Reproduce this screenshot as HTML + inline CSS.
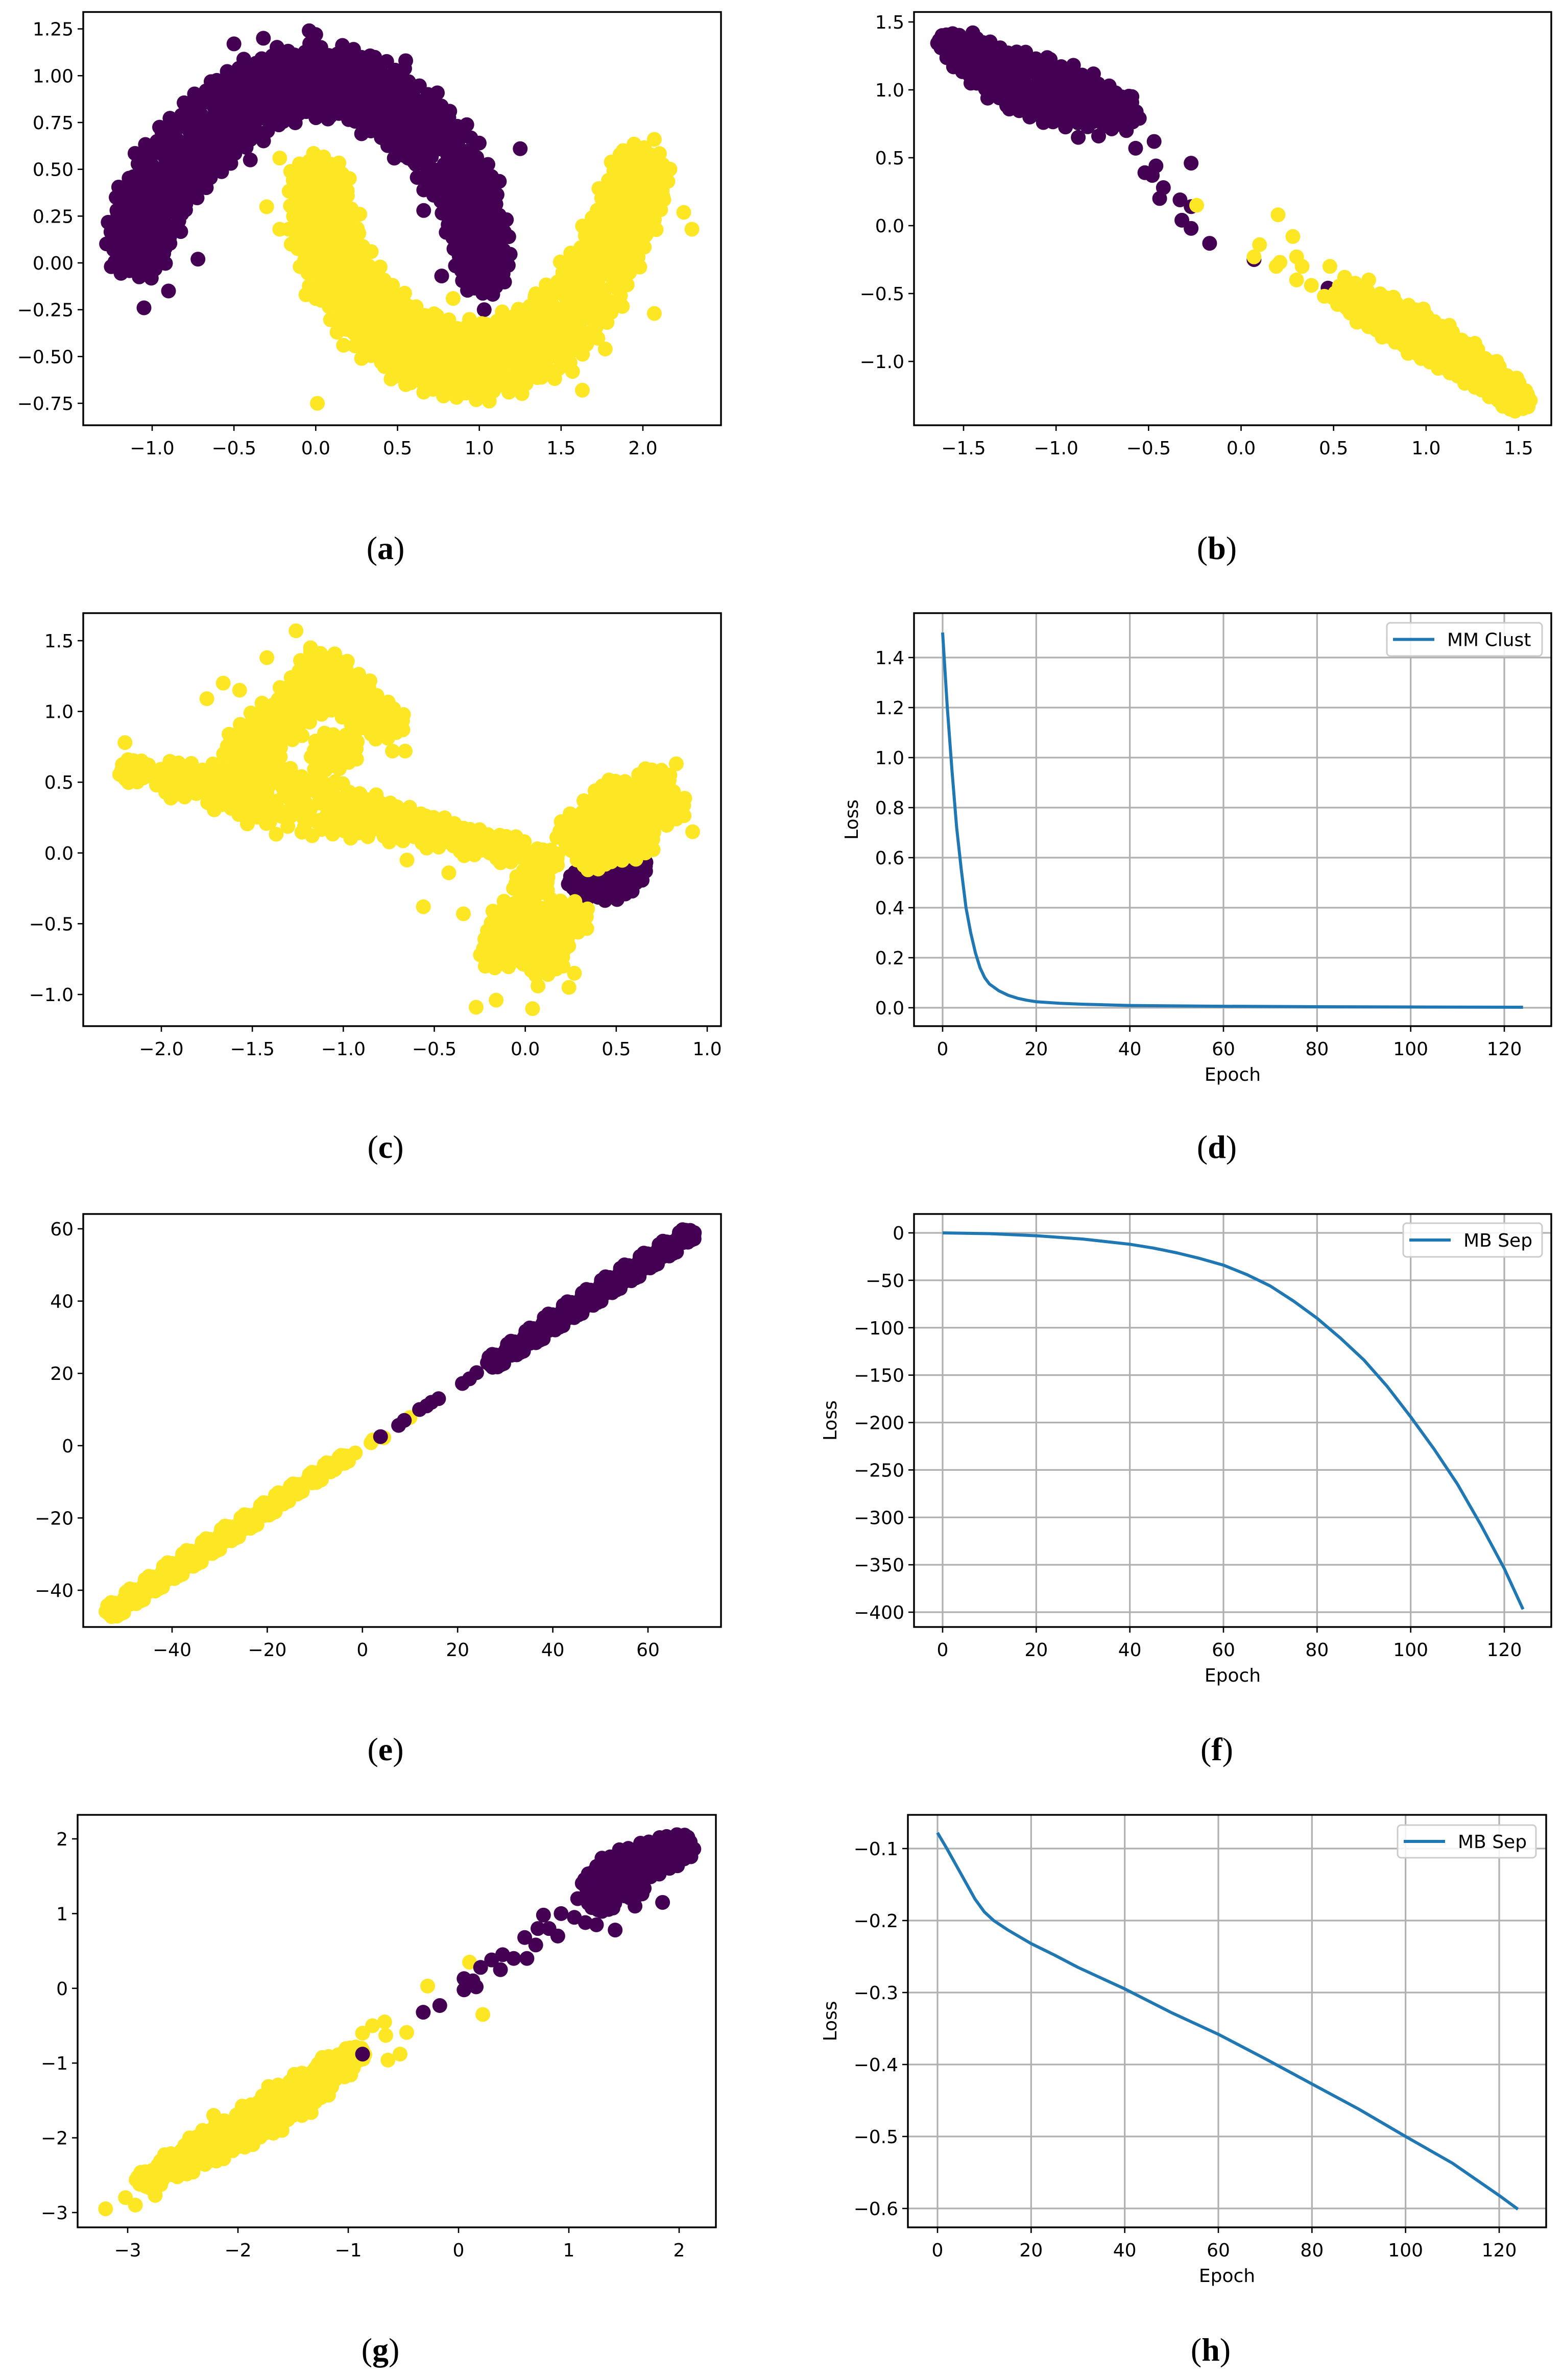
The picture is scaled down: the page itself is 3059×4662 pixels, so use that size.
<!DOCTYPE html>
<html><head><meta charset="utf-8"><style>
html,body{margin:0;padding:0;background:#fff;}
svg{display:block;}
text{font-family:"DejaVu Sans","Liberation Sans",sans-serif;}
.cap{font-family:"Liberation Serif",serif;font-size:64px;}
</style></head><body>
<svg id="fig" xmlns="http://www.w3.org/2000/svg" width="3059" height="4662" viewBox="0 0 3059 4662">
<rect x="0" y="0" width="3059" height="4662" fill="#fff"/>
<text class="cap" x="755" y="1095" text-anchor="middle">(<tspan font-weight="bold">a</tspan>)</text>
<text class="cap" x="2383" y="1095" text-anchor="middle">(<tspan font-weight="bold">b</tspan>)</text>
<text class="cap" x="755" y="2268" text-anchor="middle">(<tspan font-weight="bold">c</tspan>)</text>
<text class="cap" x="2383" y="2268" text-anchor="middle">(<tspan font-weight="bold">d</tspan>)</text>
<text class="cap" x="755" y="3448" text-anchor="middle">(<tspan font-weight="bold">e</tspan>)</text>
<text class="cap" x="2383" y="3448" text-anchor="middle">(<tspan font-weight="bold">f</tspan>)</text>
<text class="cap" x="745" y="4624" text-anchor="middle">(<tspan font-weight="bold">g</tspan>)</text>
<text class="cap" x="2371" y="4624" text-anchor="middle">(<tspan font-weight="bold">h</tspan>)</text>
</svg>
<script>
// ---------- DATA ----------
const aPurpleAnchors=[[-1.08,0.12,0.12],[-1.0,0.3,0.13],[-0.9,0.48,0.13],[-0.75,0.62,0.13],[-0.6,0.75,0.13],[-0.4,0.87,0.13],[-0.2,0.95,0.12],[0.0,0.97,0.12],[0.2,0.96,0.12],[0.4,0.88,0.13],[0.6,0.75,0.13],[0.78,0.58,0.13],[0.92,0.38,0.12],[0.98,0.18,0.11],[1.02,0.0,0.1]];
const aPurpleOutliers=[[-1.05,-0.24],[-1.22,0.35],[-1.25,-0.02],[-0.72,0.02],[-0.9,-0.15],[-0.4,0.55],[1.25,0.61],[1.18,0.14],[1.03,-0.25],[0.77,-0.07],[0.66,0.28],[0.55,1.08],[-0.5,1.17],[-0.32,1.2],[-0.04,1.24],[0.0,1.22]];
const aYellowAnchors=[[0.02,0.4,0.11],[0.05,0.2,0.13],[0.12,0.0,0.13],[0.25,-0.18,0.13],[0.4,-0.32,0.13],[0.58,-0.43,0.13],[0.78,-0.5,0.13],[0.98,-0.52,0.13],[1.18,-0.48,0.13],[1.38,-0.4,0.13],[1.55,-0.27,0.13],[1.7,-0.1,0.13],[1.82,0.1,0.12],[1.92,0.3,0.12],[1.98,0.45,0.11]];
const aYellowOutliers=[[-0.3,0.3],[-0.22,0.18],[-0.15,0.1],[-0.22,0.56],[-0.06,-0.17],[0.17,-0.44],[0.55,-0.65],[0.84,-0.19],[1.63,-0.68],[1.57,-0.58],[1.77,-0.46],[2.07,0.66],[2.25,0.27],[2.3,0.18],[2.07,-0.27],[1.88,0.6],[0.01,-0.75]];
const bPurpleAnchors=[[-1.57,1.35,0.04],[-1.45,1.25,0.08],[-1.33,1.15,0.1],[-1.2,1.07,0.13],[-1.07,1.0,0.14],[-0.95,0.95,0.13],[-0.83,0.9,0.1],[-0.7,0.85,0.08]];
const bPurpleOutliers=[[-1.45,1.42],[-0.62,0.7],[-0.57,0.57],[-0.55,0.79],[-0.59,0.95],[-0.47,0.62],[-0.46,0.44],[-0.48,0.37],[-0.52,0.39],[-0.42,0.28],[-0.44,0.2],[-0.33,0.19],[-0.27,0.14],[-0.32,0.04],[-0.27,-0.02],[-0.17,-0.13],[-0.27,0.46],[0.07,-0.25],[0.47,-0.46],[-0.88,0.65],[-0.77,0.66]];
const bYellowAnchors=[[0.6,-0.52,0.06],[0.73,-0.63,0.08],[0.88,-0.73,0.09],[1.02,-0.85,0.09],[1.17,-0.97,0.08],[1.3,-1.09,0.07],[1.42,-1.2,0.06],[1.48,-1.28,0.05]];
const bYellowOutliers=[[-0.24,0.15],[0.2,0.08],[0.28,-0.08],[0.1,-0.14],[0.07,-0.23],[0.21,-0.27],[0.19,-0.3],[0.3,-0.23],[0.33,-0.3],[0.3,-0.4],[0.38,-0.44],[0.45,-0.52],[0.48,-0.3],[0.56,-0.38],[0.69,-0.4]];
const cYellowAnchors=[[-2.15,0.58,0.05],[-1.9,0.52,0.08],[-1.65,0.47,0.1],[-1.45,0.42,0.13],[-1.28,0.38,0.15],[-1.1,0.32,0.12],[-0.9,0.27,0.1],[-0.7,0.21,0.08],[-0.5,0.15,0.07],[-0.3,0.08,0.06],[-0.1,0.03,0.06],[0.1,-0.05,0.05],
 [-1.5,0.75,0.1],[-1.38,0.9,0.1],[-1.22,1.08,0.1],[-1.12,1.28,0.09],[-0.98,1.15,0.08],[-0.88,1.0,0.08],[-0.78,0.92,0.07],[-1.05,0.72,0.08],
 [-0.05,-0.5,0.1],[0.07,-0.58,0.11],[0.2,-0.47,0.09],[-0.12,-0.68,0.08],[0.03,-0.22,0.06],[0.1,-0.75,0.07],
 [0.3,0.15,0.08],[0.45,0.28,0.1],[0.6,0.3,0.1],[0.75,0.32,0.08],[0.58,0.08,0.08],[0.38,-0.02,0.06],[0.7,0.5,0.06],[0.5,0.42,0.06]];
const cYellowOutliers=[[-2.2,0.78],[-1.75,1.09],[-1.66,1.2],[-1.57,1.15],[-1.42,1.38],[-1.26,1.57],[-1.18,1.45],[-0.56,-0.38],[-0.34,-0.43],[-0.42,-0.14],[-0.27,-1.09],[-0.16,-1.04],[0.04,-1.1],[0.07,-0.94],[0.24,-0.95],[0.92,0.15],[0.83,0.63],[-0.73,0.72],[-0.66,0.72],[-0.65,-0.05],[-0.22,-0.8],[0.27,-0.85]];
const cPurpleAnchors=[[0.38,-0.22,0.06],[0.48,-0.22,0.07],[0.55,-0.15,0.06],[0.3,-0.2,0.04],[0.6,-0.1,0.04]];
const eYellowAnchors=[[-52,-45.3,1.2],[-48,-41.7,1.3],[-44,-38.2,1.3],[-40,-34.6,1.4],[-36,-31.2,1.4],[-32,-27.8,1.3],[-28,-24.3,1.3],[-24,-21,1.2],[-20,-17.5,1.1],[-17,-14.6,1],[-14,-12,0.9],[-10,-8.8,0.9],[-7,-6,0.8],[-4,-3.8,0.7]];
const eYellowOutliers=[[-1.5,-2],[1.8,0.8],[2.2,1.6],[4.5,2.2],[10,7.8]];
const ePurpleAnchors=[[28,23.5,1.1],[32,27,1.2],[36,30.5,1.3],[40,34.2,1.4],[44,37.6,1.4],[48,41,1.4],[52,44.5,1.4],[56,47.8,1.4],[60,51.2,1.3],[64,54.5,1.3],[68,58,1.1]];
const ePurpleOutliers=[[3.8,2.5],[7.6,5.6],[8.8,7],[12,10],[13.5,11],[14.5,12],[16,13],[21,17.2],[22.5,18.5],[24,20.2],[27.5,22.8],[30,25],[69.5,59]];
const gYellowAnchors=[[-2.8,-2.55,0.07],[-2.55,-2.35,0.1],[-2.3,-2.15,0.12],[-2.05,-1.95,0.13],[-1.8,-1.75,0.14],[-1.55,-1.5,0.15],[-1.35,-1.3,0.12],[-1.12,-1.05,0.1],[-0.95,-0.88,0.06]];
const gYellowOutliers=[[-3.2,-2.95],[-3.02,-2.8],[-2.93,-2.9],[-2.75,-2.77],[-2.22,-1.7],[-2.32,-1.9],[-0.87,-0.6],[-0.78,-0.5],[-0.67,-0.45],[-0.66,-0.63],[-0.47,-0.59],[-0.53,-0.88],[-0.64,-0.96],[-0.28,0.03],[0.1,0.35],[0.22,-0.35]];
const gPurpleAnchors=[[1.28,1.42,0.09],[1.45,1.58,0.13],[1.62,1.68,0.14],[1.8,1.78,0.13],[1.95,1.88,0.11],[1.55,1.35,0.08],[1.3,1.15,0.07]];
const gPurpleOutliers=[[-0.32,-0.32],[-0.17,-0.23],[0.05,0.13],[0.05,-0.02],[0.16,0.02],[0.13,0.1],[0.2,0.28],[0.3,0.38],[0.38,0.25],[0.4,0.45],[0.5,0.4],[0.6,0.68],[0.62,0.4],[0.7,0.58],[0.72,0.8],[0.77,0.98],[0.82,0.8],[0.9,0.7],[0.93,1.0],[1.05,0.95],[1.08,1.2],[1.15,0.88],[1.25,0.85],[1.42,0.78],[1.4,1.1],[1.6,1.1],[1.85,1.15],[-0.87,-0.88],[2.05,2.05]];
const dEpochs=[0,1,2,3,4,5,6,7,8,9,10,12,14,16,18,20,25,30,40,60,80,100,124];
const dLoss=[1.5,1.2,0.95,0.72,0.55,0.4,0.3,0.22,0.16,0.12,0.095,0.068,0.05,0.038,0.03,0.024,0.018,0.014,0.009,0.006,0.004,0.003,0.002];
const fEpochs=[0,10,20,30,40,45,50,55,60,65,70,75,80,85,90,95,100,105,110,115,120,124];
const fLoss=[0,-0.8,-3,-6.5,-12,-16,-21,-27,-34,-44,-56,-72,-90,-111,-134,-162,-194,-228,-265,-308,-354,-397];
const hEpochs=[0,2,5,8,10,12,15,20,25,30,40,50,60,70,80,90,100,110,120,124];
const hLoss=[-0.078,-0.1,-0.135,-0.17,-0.188,-0.2,-0.213,-0.232,-0.248,-0.265,-0.295,-0.328,-0.358,-0.392,-0.427,-0.462,-0.5,-0.537,-0.582,-0.601];
const aXTicks=[-1.0,-0.5,0.0,0.5,1.0,1.5,2.0];
const aYTicks=[-0.75,-0.5,-0.25,0,0.25,0.5,0.75,1.0,1.25];
const bXTicks=[-1.5,-1.0,-0.5,0,0.5,1.0,1.5];
const bYTicks=[-1.0,-0.5,0,0.5,1.0,1.5];
const cXTicks=[-2.0,-1.5,-1.0,-0.5,0,0.5,1.0];
const cYTicks=[-1.0,-0.5,0,0.5,1.0,1.5];
const epochTicks=[0,20,40,60,80,100,120];
const dYTicks=[0,0.2,0.4,0.6,0.8,1.0,1.2,1.4];
const eXTicks=[-40,-20,0,20,40,60];
const eYTicks=[-40,-20,0,20,40,60];
const fYTicks=[0,-50,-100,-150,-200,-250,-300,-350,-400];
const gXTicks=[-3,-2,-1,0,1,2];
const gYTicks=[-3,-2,-1,0,1,2];
const hYTicks=[-0.1,-0.2,-0.3,-0.4,-0.5,-0.6];

// ---------- RENDER ----------
const NS='http://www.w3.org/2000/svg';
const svg=document.getElementById('fig');
const PURPLE='#440154',YELLOW='#fde725',BLUE='#1f77b4';
function mk(tag,attrs,parent){const e=document.createElementNS(NS,tag);for(const k in attrs)e.setAttribute(k,attrs[k]);(parent||svg).appendChild(e);return e;}
function lin(d0,p0,d1,p1){return v=>p0+(v-d0)*(p1-p0)/(d1-d0);}
function fmt(v,dec){const s=Math.abs(v).toFixed(dec);return (v<0&&parseFloat(s)!==0?'\u2212':'')+s;}

function panel(id,box,xs,ys,xt,yt,xdec,ydec,grid){
  const g=mk('g',{});
  
  
  const [L,T,R,B]=box;
  const X=lin(xs[0],xs[1],xs[2],xs[3]),Y=lin(ys[0],ys[1],ys[2],ys[3]);
  const clipId='clip-'+id;
  const cp=mk('clipPath',{id:clipId},g);mk('rect',{x:L,y:T,width:R-L,height:B-T},cp);
  if(grid){
    xt.forEach(v=>{const l=mk('line',{x1:X(v),x2:X(v),y1:T,y2:B,stroke:'#b0b0b0','stroke-width':3.2},g);
      
      });
    yt.forEach(v=>{const l=mk('line',{x1:L,x2:R,y1:Y(v),y2:Y(v),stroke:'#b0b0b0','stroke-width':3.2},g);
      
      });
  }
  const plot=mk('g',{'clip-path':'url(#'+clipId+')'},g);
  
  
  const ax=mk('g',{},g);
  
  
  xt.forEach(v=>{const x=X(v);
    mk('line',{x1:x,x2:x,y1:B,y2:B+11,stroke:'#000','stroke-width':2.6},ax);
    const t=mk('text',{x:x,y:B+57,'text-anchor':'middle','font-size':36},ax);t.textContent=fmt(v,xdec);
    
    });
  yt.forEach(v=>{const y=Y(v);
    mk('line',{x1:L-11,x2:L,y1:y,y2:y,stroke:'#000','stroke-width':2.6},ax);
    const t=mk('text',{x:L-19,y:y+13,'text-anchor':'end','font-size':36},ax);t.textContent=fmt(v,ydec);
    
    });
  const fr=mk('rect',{x:L,y:T,width:R-L,height:B-T,fill:'none',stroke:'#000','stroke-width':3.4},ax);
  
  
  return {X,Y,plot,ax,box};
}
function dot(p,x,y,c){const e=mk('circle',{cx:p.X(x),cy:p.Y(y),r:14.5,fill:c},p.plot);
  
  }
function cluster(p,anchors,c,n){
  anchors.forEach(a=>{
    for(let i=0;i<n;i++){const r=a[2]*1.8*Math.sqrt((i+0.5)/n),th=i*2.399963;
      dot(p,a[0]+r*Math.cos(th),a[1]+r*Math.sin(th),c);}
  });
}
function points(p,list,c){list.forEach(q=>dot(p,q[0],q[1],c));}
function curve(p,xsArr,ysArr,name){
  const d=xsArr.map((x,i)=>(i?'L':'M')+p.X(x).toFixed(1)+' '+p.Y(ysArr[i]).toFixed(1)).join(' ');
  const e=mk('path',{d:d,fill:'none',stroke:BLUE,'stroke-width':6,'stroke-linejoin':'round'},p.plot);
  
  
}
function labels(p,lossX,label,lb){
  const [L,T,R,B]=p.box;
  const ep=mk('text',{x:(L+R)/2,y:B+107,'text-anchor':'middle','font-size':36},p.ax);ep.textContent='Epoch';
  
  
  const cy=(T+B)/2;
  const ls=mk('text',{x:lossX,y:cy,'text-anchor':'middle','font-size':36,transform:'rotate(-90 '+lossX+' '+cy+')',dy:13},p.ax);ls.textContent='Loss';
  
  
  const lg=mk('g',{},p.ax);
  
  
  mk('rect',{x:lb[0],y:lb[1],width:lb[2]-lb[0],height:lb[3]-lb[1],rx:7,fill:'#fff','fill-opacity':0.85,stroke:'#cccccc','stroke-width':3},lg);
  const my=(lb[1]+lb[3])/2;
  mk('line',{x1:lb[0]+12,x2:lb[0]+93,y1:my,y2:my,stroke:BLUE,'stroke-width':6},lg);
  const t=mk('text',{x:lb[0]+118,y:my+13,'font-size':36},lg);t.textContent=label;
  
  
}

const pa=panel('a',[163,23.5,1412,833],[-1,298,2,1259],[1.25,56.6,-0.75,790],aXTicks,aYTicks,1,2,false);
cluster(pa,aPurpleAnchors,PURPLE,45);points(pa,aPurpleOutliers,PURPLE);
cluster(pa,aYellowAnchors,YELLOW,45);points(pa,aYellowOutliers,YELLOW);
const pb=panel('b',[1790,23.5,3038,833],[-1.5,1887,1.5,2974],[1.5,43,-1.0,708],bXTicks,bYTicks,1,1,false);
cluster(pb,bPurpleAnchors,PURPLE,40);points(pb,bPurpleOutliers,PURPLE);
cluster(pb,bYellowAnchors,YELLOW,40);points(pb,bYellowOutliers,YELLOW);
const pc=panel('c',[163,1201,1412,2010],[-2,316,1,1385],[1.5,1255,-1,1948],cXTicks,cYTicks,1,1,false);
cluster(pc,cPurpleAnchors,PURPLE,30);
cluster(pc,cYellowAnchors,YELLOW,30);points(pc,cYellowOutliers,YELLOW);
const pd=panel('d',[1790,1201,3038,2010],[0,1846,120,2946],[0,1974,1.4,1288],epochTicks,dYTicks,0,1,true);
curve(pd,dEpochs,dLoss,'mm-clust-loss-line');labels(pd,1667,'MM Clust',[2716,1220,3020,1285]);
const pe=panel('e',[163,2378,1412,3187],[-40,337,60,1269],[60,2407,-40,3115],eXTicks,eYTicks,0,0,false);
cluster(pe,eYellowAnchors,YELLOW,30);points(pe,eYellowOutliers,YELLOW);
cluster(pe,ePurpleAnchors,PURPLE,30);points(pe,ePurpleOutliers,PURPLE);
const pf=panel('f',[1790,2378,3038,3187],[0,1846,120,2946],[0,2415,-400,3158],epochTicks,fYTicks,0,0,true);
curve(pf,fEpochs,fLoss,'mb-sep-loss-line');labels(pf,1625,'MB Sep',[2748,2396,3020,2462]);
const pg=panel('g',[152,3555,1402,4363],[-3,250,2,1330],[2,3602,-3,4334],gXTicks,gYTicks,0,0,false);
cluster(pg,gYellowAnchors,YELLOW,40);points(pg,gYellowOutliers,YELLOW);
cluster(pg,gPurpleAnchors,PURPLE,40);points(pg,gPurpleOutliers,PURPLE);
const ph=panel('h',[1778,3555,3028,4363],[0,1836,120,2936],[-0.1,3621,-0.6,4326],epochTicks,hYTicks,0,1,true);
curve(ph,hEpochs,hLoss,'mb-sep-loss-line');labels(ph,1625,'MB Sep',[2737,3575,3008,3639]);
</script>
</body></html>
